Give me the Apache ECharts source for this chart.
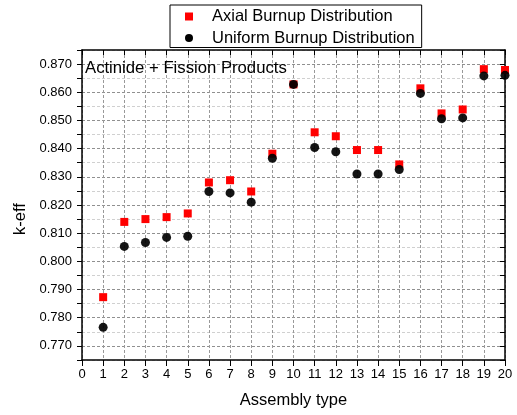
<!DOCTYPE html>
<html>
<head>
<meta charset="utf-8">
<script src="https://cdn.jsdelivr.net/npm/echarts@6/dist/echarts.min.js"></script>
<style>html,body{margin:0;padding:0;background:#fff}#c{width:517px;height:415px}</style>
</head>
<body>
<div id="c"></div>
<script>
const assemblyTypes = [1,2,3,4,5,6,7,8,9,10,11,12,13,14,15,16,17,18,19,20];
const axialBurnup = [0.7873,0.8140,0.8150,0.8157,0.8170,0.8280,0.8288,0.8248,0.8382,0.8628,0.8458,0.8444,0.8395,0.8395,0.8344,0.8614,0.8525,0.8539,0.8682,0.8679];
const uniformBurnup = [0.7766,0.8053,0.8067,0.8085,0.8089,0.8248,0.8243,0.8210,0.8366,0.8628,0.8404,0.8389,0.8310,0.8310,0.8326,0.8596,0.8506,0.8509,0.8658,0.8660];
const seriesNames = ['Axial Burnup Distribution','Uniform Burnup Distribution'];
const panelTitle = 'Actinide + Fission Products';
const xName = 'Assembly type';
const yName = 'k-eff';

const FONT = "'Liberation Sans', Arial, sans-serif";
const chart = echarts.init(document.getElementById('c'), null, {renderer:'canvas'});
const grid = {left:82, right:12, top:50, bottom:55};
const xCommon = {type:'value', min:0, max:20, interval:1};
const yCommon = {type:'value', min:0.765, max:0.875, interval:0.005};
chart.setOption({
  animation:false,
  backgroundColor:'#fff',
  textStyle:{fontFamily:FONT},
  title:{text:panelTitle, left:85, top:60, padding:0,
    textStyle:{fontFamily:FONT, fontSize:16.7, fontWeight:'normal', color:'#000'}},
  legend:{
    orient:'vertical', left:170, top:5,
    padding:[3,7,1,15], itemGap:4.5,
    borderColor:'#000', borderWidth:1, backgroundColor:'#fff',
    itemWidth:8, itemHeight:8,
    textStyle:{fontFamily:FONT, fontSize:16.5, color:'#000', padding:[0,0,0,14]},
    data:[{name:seriesNames[0], icon:'rect', itemStyle:{opacity:1}},{name:seriesNames[1], icon:'circle', itemStyle:{opacity:1}}]
  },
  grid:grid,
  xAxis:[
    Object.assign({}, xCommon, {
      position:'bottom', name:xName, nameLocation:'middle', nameGap:32,
      nameTextStyle:{fontFamily:FONT, fontSize:16.5, color:'#000'},
      axisLine:{show:true, onZero:false, lineStyle:{color:'#000', width:1.5}},
      axisTick:{show:true, inside:false, length:6, lineStyle:{color:'#000', width:1}},
      axisLabel:{show:true, margin:8, fontFamily:FONT, fontSize:13, color:'#000'},
      splitLine:{show:true, lineStyle:{color:'#999', type:[3,2], width:1}}
    }),
    Object.assign({}, xCommon, {
      position:'top',
      axisLine:{show:true, onZero:false, lineStyle:{color:'#000', width:1.5}},
      axisTick:{show:true, inside:true, length:5, lineStyle:{color:'#000', width:1}},
      axisLabel:{show:false}, splitLine:{show:false}
    })
  ],
  yAxis:[
    Object.assign({}, yCommon, {
      position:'left', name:yName, nameLocation:'middle', nameGap:48,
      nameTextStyle:{fontFamily:FONT, fontSize:16.5, color:'#000', padding:[0,0,0,-28]},
      axisLine:{show:true, onZero:false, lineStyle:{color:'#000', width:1.5}},
      axisTick:{show:true, inside:false, length:5, lineStyle:{color:'#000', width:1}},
      axisLabel:{show:true, margin:10, fontFamily:FONT, fontSize:13, color:'#000',
        formatter:function(v){ const k=Math.round(v*1000); return (k%10===0)? v.toFixed(3) : ''; }},
      splitLine:{show:true, lineStyle:{color:['#d0d0d0','#909090'], type:[3,2], width:1}}
    }),
    Object.assign({}, yCommon, {
      position:'right',
      axisLine:{show:true, onZero:false, lineStyle:{color:'#000', width:1.5}},
      axisTick:{show:true, inside:true, length:5, lineStyle:{color:'#000', width:1}},
      axisLabel:{show:false}, splitLine:{show:false}
    })
  ],
  series:[
    {name:seriesNames[0], type:'scatter', symbol:'rect', symbolSize:8,
     itemStyle:{color:'#ff0000', opacity:1}, z:3,
     data:assemblyTypes.map((x,i)=>[x, axialBurnup[i]])},
    {name:seriesNames[1], type:'scatter', symbol:'circle', symbolSize:9,
     itemStyle:{color:'#000000', opacity:0.92}, z:4,
     data:assemblyTypes.map((x,i)=>[x, uniformBurnup[i]])}
  ]
});
</script>
</body>
</html>
